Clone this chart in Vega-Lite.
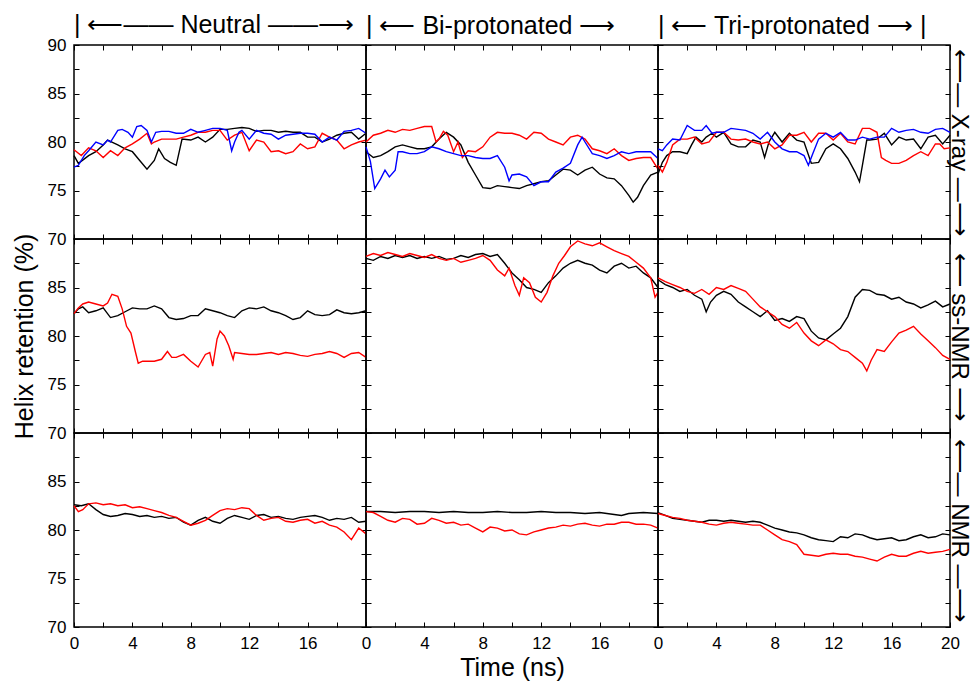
{
"$schema": "https://vega.github.io/schema/vega-lite/v6.json",
"background": "white",
"padding": {"left": 11, "top": 12, "right": 0, "bottom": 0},
"config": {
  "font": "Liberation Sans",
  "view": {"stroke": "#000000", "strokeWidth": 1.5},
  "axis": {"domain": false, "grid": false, "tickColor": "#000000", "tickSize": -5, "tickWidth": 1, "labelFont": "Liberation Sans", "labelFontSize": 17, "labelColor": "#000000", "labelPadding": 13, "labelOverlap": false, "labelFlush": false, "titleFont": "Liberation Sans", "titleFontSize": 25, "titleFontWeight": "normal", "titleColor": "#000000"},
  "title": {"font": "Liberation Sans", "fontSize": 25, "fontWeight": "normal", "color": "#000000"},
  "line": {"strokeWidth": 1.4}
},
"datasets": {
"NX": [
{"s":"k","t":0,"v":78.6},{"s":"k","t":0.3,"v":77.8},{"s":"k","t":1,"v":78.6},{"s":"k","t":1.5,"v":79.0},{"s":"k","t":2,"v":79.7},{"s":"k","t":2.3,"v":80.2},{"s":"k","t":3,"v":79.7},{"s":"k","t":3.5,"v":79.3},{"s":"k","t":4,"v":79.0},{"s":"k","t":4.5,"v":78.1},{"s":"k","t":5,"v":77.2},{"s":"k","t":5.5,"v":78.1},{"s":"k","t":5.8,"v":79.3},{"s":"k","t":6.2,"v":78.3},{"s":"k","t":6.6,"v":77.9},{"s":"k","t":7,"v":77.6},{"s":"k","t":7.4,"v":80.3},{"s":"k","t":8,"v":80.2},{"s":"k","t":8.5,"v":80.5},{"s":"k","t":9,"v":80.0},{"s":"k","t":9.5,"v":80.5},{"s":"k","t":10,"v":81.3},{"s":"k","t":10.5,"v":81.3},{"s":"k","t":11,"v":81.4},{"s":"k","t":11.5,"v":81.5},{"s":"k","t":12,"v":81.4},{"s":"k","t":12.5,"v":81.1},{"s":"k","t":13,"v":81.2},{"s":"k","t":13.5,"v":81.2},{"s":"k","t":14,"v":81.0},{"s":"k","t":14.5,"v":81.1},{"s":"k","t":15,"v":81.0},{"s":"k","t":15.5,"v":81.0},{"s":"k","t":16,"v":80.5},{"s":"k","t":16.5,"v":80.5},{"s":"k","t":17,"v":80.0},{"s":"k","t":17.5,"v":80.3},{"s":"k","t":18,"v":80.7},{"s":"k","t":18.5,"v":80.9},{"s":"k","t":19,"v":81.0},{"s":"k","t":19.5,"v":80.3},{"s":"k","t":20,"v":80.9},
{"s":"r","t":0,"v":79.2},{"s":"r","t":0.5,"v":78.6},{"s":"r","t":1,"v":79.4},{"s":"r","t":1.5,"v":79.1},{"s":"r","t":2,"v":78.4},{"s":"r","t":2.5,"v":79.1},{"s":"r","t":3,"v":78.6},{"s":"r","t":3.5,"v":79.4},{"s":"r","t":4,"v":79.8},{"s":"r","t":4.5,"v":80.3},{"s":"r","t":5,"v":80.9},{"s":"r","t":5.3,"v":79.8},{"s":"r","t":5.5,"v":80.0},{"s":"r","t":6,"v":80.3},{"s":"r","t":6.5,"v":80.3},{"s":"r","t":7,"v":80.3},{"s":"r","t":7.5,"v":80.5},{"s":"r","t":8,"v":80.7},{"s":"r","t":8.5,"v":81.0},{"s":"r","t":9,"v":81.0},{"s":"r","t":9.5,"v":81.2},{"s":"r","t":10,"v":81.2},{"s":"r","t":10.5,"v":80.2},{"s":"r","t":11,"v":80.7},{"s":"r","t":11.5,"v":81.0},{"s":"r","t":12,"v":79.1},{"s":"r","t":12.5,"v":80.2},{"s":"r","t":13,"v":80.0},{"s":"r","t":13.5,"v":79.0},{"s":"r","t":14,"v":79.1},{"s":"r","t":14.5,"v":78.8},{"s":"r","t":15,"v":79.0},{"s":"r","t":15.5,"v":79.8},{"s":"r","t":16,"v":79.3},{"s":"r","t":16.5,"v":79.5},{"s":"r","t":17,"v":80.9},{"s":"r","t":17.5,"v":80.5},{"s":"r","t":18,"v":80.2},{"s":"r","t":18.5,"v":79.3},{"s":"r","t":19,"v":79.7},{"s":"r","t":19.5,"v":80.0},{"s":"r","t":20,"v":80.2},
{"s":"b","t":0,"v":77.4},{"s":"b","t":0.3,"v":77.6},{"s":"b","t":0.7,"v":78.6},{"s":"b","t":1,"v":79.1},{"s":"b","t":1.5,"v":80.0},{"s":"b","t":2,"v":79.7},{"s":"b","t":2.3,"v":80.2},{"s":"b","t":2.5,"v":80.0},{"s":"b","t":3,"v":81.2},{"s":"b","t":3.3,"v":81.3},{"s":"b","t":3.7,"v":81.0},{"s":"b","t":4,"v":80.5},{"s":"b","t":4.3,"v":81.6},{"s":"b","t":4.6,"v":81.7},{"s":"b","t":5,"v":81.2},{"s":"b","t":5.3,"v":80.0},{"s":"b","t":5.6,"v":81.0},{"s":"b","t":6,"v":81.1},{"s":"b","t":6.5,"v":81.1},{"s":"b","t":7,"v":80.9},{"s":"b","t":7.5,"v":80.9},{"s":"b","t":8,"v":81.3},{"s":"b","t":8.5,"v":81.0},{"s":"b","t":9,"v":81.2},{"s":"b","t":9.5,"v":81.4},{"s":"b","t":10,"v":81.4},{"s":"b","t":10.5,"v":81.2},{"s":"b","t":10.8,"v":79.1},{"s":"b","t":11,"v":80.0},{"s":"b","t":11.3,"v":81.0},{"s":"b","t":11.5,"v":81.2},{"s":"b","t":12,"v":80.3},{"s":"b","t":12.5,"v":81.2},{"s":"b","t":13,"v":80.9},{"s":"b","t":13.5,"v":80.8},{"s":"b","t":14,"v":80.3},{"s":"b","t":14.5,"v":80.7},{"s":"b","t":15,"v":80.8},{"s":"b","t":15.5,"v":80.9},{"s":"b","t":16,"v":80.9},{"s":"b","t":16.5,"v":80.8},{"s":"b","t":17,"v":80.0},{"s":"b","t":17.5,"v":80.5},{"s":"b","t":18,"v":80.2},{"s":"b","t":18.5,"v":81.1},{"s":"b","t":19,"v":81.2},{"s":"b","t":19.5,"v":81.4},{"s":"b","t":20,"v":80.9}
],
"BX": [
{"s":"k","t":0,"v":79.0},{"s":"k","t":0.5,"v":78.4},{"s":"k","t":1,"v":78.6},{"s":"k","t":1.5,"v":79.0},{"s":"k","t":2,"v":79.5},{"s":"k","t":2.5,"v":79.7},{"s":"k","t":3,"v":79.5},{"s":"k","t":3.5,"v":79.3},{"s":"k","t":4,"v":79.3},{"s":"k","t":4.5,"v":79.5},{"s":"k","t":5,"v":80.3},{"s":"k","t":5.5,"v":81.0},{"s":"k","t":6,"v":80.5},{"s":"k","t":6.5,"v":79.7},{"s":"k","t":7,"v":77.9},{"s":"k","t":7.5,"v":76.6},{"s":"k","t":8,"v":75.3},{"s":"k","t":8.5,"v":75.2},{"s":"k","t":9,"v":75.5},{"s":"k","t":9.5,"v":75.4},{"s":"k","t":10,"v":75.3},{"s":"k","t":10.5,"v":75.2},{"s":"k","t":11,"v":75.5},{"s":"k","t":11.5,"v":75.7},{"s":"k","t":12,"v":75.9},{"s":"k","t":12.5,"v":76.0},{"s":"k","t":13,"v":76.6},{"s":"k","t":13.5,"v":77.2},{"s":"k","t":14,"v":77.1},{"s":"k","t":14.5,"v":76.6},{"s":"k","t":15,"v":77.1},{"s":"k","t":15.5,"v":77.4},{"s":"k","t":16,"v":76.7},{"s":"k","t":16.5,"v":76.3},{"s":"k","t":17,"v":76.2},{"s":"k","t":17.5,"v":75.5},{"s":"k","t":18,"v":74.5},{"s":"k","t":18.3,"v":73.8},{"s":"k","t":18.6,"v":74.3},{"s":"k","t":19,"v":75.5},{"s":"k","t":19.5,"v":76.6},{"s":"k","t":20,"v":76.9},
{"s":"r","t":0,"v":80.0},{"s":"r","t":0.5,"v":80.7},{"s":"r","t":1,"v":80.9},{"s":"r","t":1.5,"v":81.2},{"s":"r","t":2,"v":81.0},{"s":"r","t":2.5,"v":81.3},{"s":"r","t":3,"v":81.2},{"s":"r","t":3.5,"v":81.4},{"s":"r","t":4,"v":81.6},{"s":"r","t":4.5,"v":81.6},{"s":"r","t":4.8,"v":80.0},{"s":"r","t":5,"v":80.3},{"s":"r","t":5.3,"v":81.1},{"s":"r","t":5.6,"v":80.7},{"s":"r","t":6,"v":79.0},{"s":"r","t":6.3,"v":80.0},{"s":"r","t":6.6,"v":78.4},{"s":"r","t":7,"v":79.1},{"s":"r","t":7.5,"v":79.0},{"s":"r","t":8,"v":79.5},{"s":"r","t":8.5,"v":80.5},{"s":"r","t":9,"v":81.0},{"s":"r","t":9.5,"v":80.9},{"s":"r","t":10,"v":80.9},{"s":"r","t":10.5,"v":80.7},{"s":"r","t":11,"v":80.3},{"s":"r","t":11.5,"v":81.0},{"s":"r","t":12,"v":80.9},{"s":"r","t":12.5,"v":80.3},{"s":"r","t":13,"v":80.0},{"s":"r","t":13.5,"v":79.7},{"s":"r","t":14,"v":80.5},{"s":"r","t":14.5,"v":80.7},{"s":"r","t":15,"v":80.3},{"s":"r","t":15.5,"v":79.3},{"s":"r","t":16,"v":79.1},{"s":"r","t":16.5,"v":78.8},{"s":"r","t":17,"v":79.3},{"s":"r","t":17.5,"v":78.6},{"s":"r","t":18,"v":78.1},{"s":"r","t":18.5,"v":78.3},{"s":"r","t":19,"v":78.4},{"s":"r","t":19.5,"v":78.4},{"s":"r","t":20,"v":77.2},
{"s":"b","t":0,"v":79.5},{"s":"b","t":0.3,"v":78.0},{"s":"b","t":0.6,"v":75.2},{"s":"b","t":1,"v":76.2},{"s":"b","t":1.3,"v":77.1},{"s":"b","t":1.6,"v":76.4},{"s":"b","t":2,"v":77.1},{"s":"b","t":2.2,"v":79.0},{"s":"b","t":2.5,"v":79.0},{"s":"b","t":3,"v":78.8},{"s":"b","t":3.5,"v":78.8},{"s":"b","t":4,"v":79.0},{"s":"b","t":4.5,"v":79.5},{"s":"b","t":5,"v":79.3},{"s":"b","t":5.5,"v":79.0},{"s":"b","t":6,"v":78.8},{"s":"b","t":6.5,"v":78.6},{"s":"b","t":7,"v":78.6},{"s":"b","t":7.5,"v":78.4},{"s":"b","t":8,"v":78.3},{"s":"b","t":8.5,"v":78.3},{"s":"b","t":9,"v":78.6},{"s":"b","t":9.5,"v":77.4},{"s":"b","t":9.8,"v":76.0},{"s":"b","t":10,"v":76.6},{"s":"b","t":10.5,"v":76.7},{"s":"b","t":11,"v":76.4},{"s":"b","t":11.5,"v":75.5},{"s":"b","t":12,"v":75.9},{"s":"b","t":12.5,"v":75.9},{"s":"b","t":13,"v":76.9},{"s":"b","t":13.5,"v":77.3},{"s":"b","t":14,"v":77.8},{"s":"b","t":14.5,"v":79.7},{"s":"b","t":14.8,"v":80.5},{"s":"b","t":15,"v":80.0},{"s":"b","t":15.5,"v":78.8},{"s":"b","t":16,"v":78.6},{"s":"b","t":16.5,"v":78.3},{"s":"b","t":17,"v":78.6},{"s":"b","t":17.5,"v":79.0},{"s":"b","t":18,"v":78.8},{"s":"b","t":18.5,"v":79.0},{"s":"b","t":19,"v":79.0},{"s":"b","t":19.5,"v":79.0},{"s":"b","t":20,"v":78.3}
],
"TX": [
{"s":"k","t":0,"v":76.7},{"s":"k","t":0.3,"v":77.9},{"s":"k","t":0.6,"v":78.6},{"s":"k","t":1,"v":79.0},{"s":"k","t":1.5,"v":79.0},{"s":"k","t":2,"v":78.8},{"s":"k","t":2.3,"v":79.7},{"s":"k","t":2.6,"v":80.5},{"s":"k","t":3,"v":80.0},{"s":"k","t":3.3,"v":80.5},{"s":"k","t":3.7,"v":80.9},{"s":"k","t":4,"v":80.5},{"s":"k","t":4.5,"v":81.0},{"s":"k","t":5,"v":79.8},{"s":"k","t":5.5,"v":79.5},{"s":"k","t":6,"v":79.5},{"s":"k","t":6.5,"v":80.2},{"s":"k","t":7,"v":80.0},{"s":"k","t":7.3,"v":78.4},{"s":"k","t":7.6,"v":80.0},{"s":"k","t":8,"v":81.0},{"s":"k","t":8.5,"v":80.0},{"s":"k","t":9,"v":80.9},{"s":"k","t":9.5,"v":80.2},{"s":"k","t":10,"v":80.0},{"s":"k","t":10.5,"v":77.8},{"s":"k","t":11,"v":77.9},{"s":"k","t":11.5,"v":79.3},{"s":"k","t":12,"v":79.8},{"s":"k","t":12.5,"v":79.3},{"s":"k","t":13,"v":78.3},{"s":"k","t":13.5,"v":76.9},{"s":"k","t":13.8,"v":75.9},{"s":"k","t":14,"v":77.6},{"s":"k","t":14.3,"v":80.2},{"s":"k","t":14.5,"v":80.2},{"s":"k","t":15,"v":80.3},{"s":"k","t":15.5,"v":80.9},{"s":"k","t":16,"v":79.7},{"s":"k","t":16.5,"v":80.5},{"s":"k","t":17,"v":80.2},{"s":"k","t":17.5,"v":80.3},{"s":"k","t":18,"v":79.3},{"s":"k","t":18.5,"v":80.5},{"s":"k","t":19,"v":80.7},{"s":"k","t":19.5,"v":79.8},{"s":"k","t":20,"v":80.7},
{"s":"r","t":0,"v":77.6},{"s":"r","t":0.3,"v":76.9},{"s":"r","t":0.6,"v":77.9},{"s":"r","t":1,"v":79.7},{"s":"r","t":1.5,"v":80.3},{"s":"r","t":2,"v":80.3},{"s":"r","t":2.5,"v":80.5},{"s":"r","t":3,"v":79.8},{"s":"r","t":3.5,"v":80.0},{"s":"r","t":4,"v":81.0},{"s":"r","t":4.5,"v":81.0},{"s":"r","t":5,"v":80.3},{"s":"r","t":5.5,"v":80.2},{"s":"r","t":6,"v":80.3},{"s":"r","t":6.5,"v":80.0},{"s":"r","t":7,"v":79.8},{"s":"r","t":7.5,"v":80.0},{"s":"r","t":8,"v":79.3},{"s":"r","t":8.5,"v":79.7},{"s":"r","t":9,"v":80.7},{"s":"r","t":9.5,"v":80.7},{"s":"r","t":10,"v":81.0},{"s":"r","t":10.5,"v":80.0},{"s":"r","t":11,"v":80.9},{"s":"r","t":11.5,"v":80.9},{"s":"r","t":12,"v":80.2},{"s":"r","t":12.5,"v":80.9},{"s":"r","t":13,"v":80.0},{"s":"r","t":13.5,"v":79.8},{"s":"r","t":14,"v":81.4},{"s":"r","t":14.5,"v":81.4},{"s":"r","t":15,"v":81.0},{"s":"r","t":15.3,"v":78.4},{"s":"r","t":15.6,"v":78.1},{"s":"r","t":16,"v":77.8},{"s":"r","t":16.5,"v":77.8},{"s":"r","t":17,"v":78.1},{"s":"r","t":17.5,"v":78.6},{"s":"r","t":18,"v":79.0},{"s":"r","t":18.5,"v":78.6},{"s":"r","t":19,"v":79.8},{"s":"r","t":19.3,"v":79.8},{"s":"r","t":19.6,"v":79.3},{"s":"r","t":20,"v":79.4},
{"s":"b","t":0,"v":79.3},{"s":"b","t":0.3,"v":79.1},{"s":"b","t":0.6,"v":79.7},{"s":"b","t":1,"v":80.3},{"s":"b","t":1.5,"v":80.2},{"s":"b","t":2,"v":81.7},{"s":"b","t":2.5,"v":81.2},{"s":"b","t":3,"v":81.2},{"s":"b","t":3.3,"v":81.7},{"s":"b","t":3.7,"v":80.9},{"s":"b","t":4,"v":81.0},{"s":"b","t":4.5,"v":81.0},{"s":"b","t":5,"v":81.4},{"s":"b","t":5.5,"v":81.3},{"s":"b","t":6,"v":81.2},{"s":"b","t":6.5,"v":80.9},{"s":"b","t":7,"v":80.3},{"s":"b","t":7.5,"v":81.0},{"s":"b","t":8,"v":80.0},{"s":"b","t":8.5,"v":79.3},{"s":"b","t":9,"v":79.0},{"s":"b","t":9.5,"v":79.0},{"s":"b","t":10,"v":78.6},{"s":"b","t":10.3,"v":77.6},{"s":"b","t":10.6,"v":78.8},{"s":"b","t":11,"v":80.3},{"s":"b","t":11.5,"v":80.9},{"s":"b","t":12,"v":80.5},{"s":"b","t":12.5,"v":81.0},{"s":"b","t":13,"v":80.2},{"s":"b","t":13.5,"v":80.2},{"s":"b","t":14,"v":80.5},{"s":"b","t":14.5,"v":80.3},{"s":"b","t":15,"v":80.5},{"s":"b","t":15.5,"v":80.5},{"s":"b","t":16,"v":81.4},{"s":"b","t":16.5,"v":81.0},{"s":"b","t":17,"v":81.2},{"s":"b","t":17.5,"v":81.3},{"s":"b","t":18,"v":81.0},{"s":"b","t":18.5,"v":80.9},{"s":"b","t":19,"v":81.3},{"s":"b","t":19.5,"v":81.4},{"s":"b","t":20,"v":81.0}
],
"NS": [
{"s":"k","t":0,"v":82.3},{"s":"k","t":0.3,"v":82.8},{"s":"k","t":0.6,"v":83.0},{"s":"k","t":1,"v":82.4},{"s":"k","t":1.5,"v":82.6},{"s":"k","t":2,"v":82.9},{"s":"k","t":2.5,"v":81.9},{"s":"k","t":3,"v":82.1},{"s":"k","t":3.5,"v":82.5},{"s":"k","t":4,"v":82.9},{"s":"k","t":4.5,"v":82.8},{"s":"k","t":5,"v":82.8},{"s":"k","t":5.5,"v":83.1},{"s":"k","t":6,"v":82.8},{"s":"k","t":6.5,"v":81.9},{"s":"k","t":7,"v":81.7},{"s":"k","t":7.5,"v":81.8},{"s":"k","t":8,"v":82.1},{"s":"k","t":8.5,"v":82.1},{"s":"k","t":9,"v":82.8},{"s":"k","t":9.5,"v":82.6},{"s":"k","t":10,"v":82.4},{"s":"k","t":10.5,"v":82.1},{"s":"k","t":11,"v":81.9},{"s":"k","t":11.5,"v":82.6},{"s":"k","t":12,"v":82.9},{"s":"k","t":12.5,"v":82.8},{"s":"k","t":13,"v":83.0},{"s":"k","t":13.5,"v":82.6},{"s":"k","t":14,"v":82.4},{"s":"k","t":14.5,"v":82.1},{"s":"k","t":15,"v":81.7},{"s":"k","t":15.5,"v":81.9},{"s":"k","t":16,"v":82.6},{"s":"k","t":16.5,"v":82.2},{"s":"k","t":17,"v":82.1},{"s":"k","t":17.5,"v":82.2},{"s":"k","t":18,"v":82.7},{"s":"k","t":18.5,"v":82.4},{"s":"k","t":19,"v":82.3},{"s":"k","t":19.5,"v":82.4},{"s":"k","t":20,"v":82.6},
{"s":"r","t":0,"v":82.3},{"s":"r","t":0.3,"v":82.9},{"s":"r","t":0.6,"v":83.3},{"s":"r","t":1,"v":83.5},{"s":"r","t":1.5,"v":83.3},{"s":"r","t":2,"v":83.1},{"s":"r","t":2.3,"v":83.4},{"s":"r","t":2.6,"v":84.3},{"s":"r","t":3,"v":84.1},{"s":"r","t":3.3,"v":82.8},{"s":"r","t":3.6,"v":81.0},{"s":"r","t":3.9,"v":80.3},{"s":"r","t":4.2,"v":78.4},{"s":"r","t":4.4,"v":77.2},{"s":"r","t":4.7,"v":77.4},{"s":"r","t":5,"v":77.4},{"s":"r","t":5.5,"v":77.4},{"s":"r","t":6,"v":77.6},{"s":"r","t":6.4,"v":78.4},{"s":"r","t":6.7,"v":77.8},{"s":"r","t":7,"v":77.8},{"s":"r","t":7.5,"v":78.1},{"s":"r","t":8,"v":77.4},{"s":"r","t":8.5,"v":76.8},{"s":"r","t":9,"v":78.1},{"s":"r","t":9.3,"v":78.3},{"s":"r","t":9.5,"v":76.9},{"s":"r","t":9.8,"v":79.7},{"s":"r","t":10,"v":80.5},{"s":"r","t":10.3,"v":80.0},{"s":"r","t":10.6,"v":79.0},{"s":"r","t":10.9,"v":77.6},{"s":"r","t":11,"v":78.3},{"s":"r","t":11.5,"v":78.2},{"s":"r","t":12,"v":78.1},{"s":"r","t":12.5,"v":78.1},{"s":"r","t":13,"v":78.2},{"s":"r","t":13.5,"v":78.3},{"s":"r","t":14,"v":78.1},{"s":"r","t":14.5,"v":78.3},{"s":"r","t":15,"v":78.2},{"s":"r","t":15.5,"v":78.0},{"s":"r","t":16,"v":77.9},{"s":"r","t":16.5,"v":78.1},{"s":"r","t":17,"v":78.2},{"s":"r","t":17.5,"v":78.4},{"s":"r","t":18,"v":78.2},{"s":"r","t":18.5,"v":77.8},{"s":"r","t":19,"v":78.2},{"s":"r","t":19.5,"v":78.3},{"s":"r","t":20,"v":77.8}
],
"BS": [
{"s":"k","t":0,"v":88.0},{"s":"k","t":0.5,"v":87.8},{"s":"k","t":1,"v":88.2},{"s":"k","t":1.5,"v":88.0},{"s":"k","t":2,"v":88.3},{"s":"k","t":2.5,"v":88.1},{"s":"k","t":3,"v":88.3},{"s":"k","t":3.5,"v":88.0},{"s":"k","t":4,"v":88.2},{"s":"k","t":4.5,"v":88.0},{"s":"k","t":5,"v":88.2},{"s":"k","t":5.5,"v":87.9},{"s":"k","t":6,"v":88.0},{"s":"k","t":6.5,"v":88.3},{"s":"k","t":7,"v":88.1},{"s":"k","t":7.5,"v":88.4},{"s":"k","t":8,"v":88.5},{"s":"k","t":8.5,"v":88.2},{"s":"k","t":9,"v":88.4},{"s":"k","t":9.5,"v":87.5},{"s":"k","t":10,"v":86.5},{"s":"k","t":10.5,"v":85.8},{"s":"k","t":11,"v":85.0},{"s":"k","t":11.5,"v":84.8},{"s":"k","t":12,"v":84.5},{"s":"k","t":12.5,"v":85.5},{"s":"k","t":13,"v":86.2},{"s":"k","t":13.5,"v":87.0},{"s":"k","t":14,"v":87.5},{"s":"k","t":14.5,"v":87.8},{"s":"k","t":15,"v":87.5},{"s":"k","t":15.5,"v":87.3},{"s":"k","t":16,"v":86.8},{"s":"k","t":16.5,"v":86.5},{"s":"k","t":17,"v":87.2},{"s":"k","t":17.5,"v":87.5},{"s":"k","t":18,"v":87.0},{"s":"k","t":18.5,"v":87.2},{"s":"k","t":19,"v":86.5},{"s":"k","t":19.5,"v":86.0},{"s":"k","t":20,"v":85.0},
{"s":"r","t":0,"v":88.2},{"s":"r","t":0.5,"v":88.5},{"s":"r","t":1,"v":88.3},{"s":"r","t":1.5,"v":88.6},{"s":"r","t":2,"v":88.4},{"s":"r","t":2.5,"v":88.2},{"s":"r","t":3,"v":88.5},{"s":"r","t":3.5,"v":88.3},{"s":"r","t":4,"v":88.1},{"s":"r","t":4.5,"v":88.4},{"s":"r","t":5,"v":88.0},{"s":"r","t":5.5,"v":87.8},{"s":"r","t":6,"v":88.0},{"s":"r","t":6.5,"v":87.6},{"s":"r","t":7,"v":87.8},{"s":"r","t":7.5,"v":88.0},{"s":"r","t":8,"v":88.3},{"s":"r","t":8.5,"v":87.8},{"s":"r","t":9,"v":86.8},{"s":"r","t":9.5,"v":86.2},{"s":"r","t":9.8,"v":87.0},{"s":"r","t":10.2,"v":85.2},{"s":"r","t":10.5,"v":84.2},{"s":"r","t":10.8,"v":86.0},{"s":"r","t":11.2,"v":85.5},{"s":"r","t":11.6,"v":84.0},{"s":"r","t":12,"v":83.5},{"s":"r","t":12.4,"v":84.5},{"s":"r","t":12.8,"v":86.2},{"s":"r","t":13.2,"v":87.5},{"s":"r","t":13.6,"v":88.3},{"s":"r","t":14,"v":89.2},{"s":"r","t":14.5,"v":89.8},{"s":"r","t":15,"v":89.5},{"s":"r","t":15.5,"v":89.3},{"s":"r","t":16,"v":89.6},{"s":"r","t":16.5,"v":89.2},{"s":"r","t":17,"v":88.8},{"s":"r","t":17.5,"v":88.5},{"s":"r","t":18,"v":88.2},{"s":"r","t":18.5,"v":87.6},{"s":"r","t":19,"v":87.0},{"s":"r","t":19.5,"v":86.0},{"s":"r","t":19.8,"v":84.0},{"s":"r","t":20,"v":84.5}
],
"TS": [
{"s":"k","t":0,"v":85.8},{"s":"k","t":0.5,"v":85.3},{"s":"k","t":1,"v":85.0},{"s":"k","t":1.5,"v":84.6},{"s":"k","t":2,"v":84.8},{"s":"k","t":2.5,"v":84.2},{"s":"k","t":3,"v":83.8},{"s":"k","t":3.3,"v":82.5},{"s":"k","t":3.6,"v":83.5},{"s":"k","t":4,"v":84.2},{"s":"k","t":4.5,"v":84.6},{"s":"k","t":5,"v":84.3},{"s":"k","t":5.5,"v":83.5},{"s":"k","t":6,"v":83.0},{"s":"k","t":6.5,"v":82.5},{"s":"k","t":7,"v":82.0},{"s":"k","t":7.5,"v":82.6},{"s":"k","t":8,"v":81.6},{"s":"k","t":8.5,"v":81.8},{"s":"k","t":9,"v":81.5},{"s":"k","t":9.5,"v":82.0},{"s":"k","t":10,"v":81.8},{"s":"k","t":10.5,"v":80.5},{"s":"k","t":11,"v":79.8},{"s":"k","t":11.5,"v":79.6},{"s":"k","t":12,"v":80.2},{"s":"k","t":12.5,"v":80.8},{"s":"k","t":13,"v":82.0},{"s":"k","t":13.5,"v":84.0},{"s":"k","t":14,"v":84.8},{"s":"k","t":14.5,"v":84.7},{"s":"k","t":15,"v":84.3},{"s":"k","t":15.5,"v":84.2},{"s":"k","t":16,"v":83.8},{"s":"k","t":16.5,"v":84.0},{"s":"k","t":17,"v":83.5},{"s":"k","t":17.5,"v":83.3},{"s":"k","t":18,"v":82.9},{"s":"k","t":18.5,"v":83.2},{"s":"k","t":19,"v":83.6},{"s":"k","t":19.5,"v":83.0},{"s":"k","t":20,"v":83.3},
{"s":"r","t":0,"v":86.0},{"s":"r","t":0.5,"v":85.6},{"s":"r","t":1,"v":85.3},{"s":"r","t":1.5,"v":85.0},{"s":"r","t":2,"v":84.6},{"s":"r","t":2.5,"v":84.4},{"s":"r","t":3,"v":84.8},{"s":"r","t":3.5,"v":84.3},{"s":"r","t":4,"v":85.0},{"s":"r","t":4.5,"v":84.8},{"s":"r","t":5,"v":85.2},{"s":"r","t":5.5,"v":84.9},{"s":"r","t":6,"v":84.6},{"s":"r","t":6.5,"v":83.8},{"s":"r","t":7,"v":83.0},{"s":"r","t":7.5,"v":82.5},{"s":"r","t":8,"v":82.0},{"s":"r","t":8.5,"v":81.2},{"s":"r","t":9,"v":80.8},{"s":"r","t":9.5,"v":81.4},{"s":"r","t":10,"v":80.3},{"s":"r","t":10.5,"v":79.5},{"s":"r","t":11,"v":79.0},{"s":"r","t":11.5,"v":79.6},{"s":"r","t":12,"v":79.2},{"s":"r","t":12.5,"v":78.6},{"s":"r","t":13,"v":78.4},{"s":"r","t":13.5,"v":77.8},{"s":"r","t":14,"v":77.2},{"s":"r","t":14.3,"v":76.4},{"s":"r","t":14.6,"v":77.5},{"s":"r","t":15,"v":78.6},{"s":"r","t":15.5,"v":78.4},{"s":"r","t":16,"v":79.4},{"s":"r","t":16.5,"v":80.3},{"s":"r","t":17,"v":80.6},{"s":"r","t":17.5,"v":81.0},{"s":"r","t":18,"v":80.2},{"s":"r","t":18.5,"v":79.5},{"s":"r","t":19,"v":78.8},{"s":"r","t":19.5,"v":78.0},{"s":"r","t":20,"v":77.6}
],
"NN": [
{"s":"k","t":0,"v":82.6},{"s":"k","t":0.5,"v":82.5},{"s":"k","t":1,"v":82.7},{"s":"k","t":1.5,"v":82.1},{"s":"k","t":2,"v":81.6},{"s":"k","t":2.5,"v":81.4},{"s":"k","t":3,"v":81.5},{"s":"k","t":3.5,"v":81.7},{"s":"k","t":4,"v":81.6},{"s":"k","t":4.5,"v":81.4},{"s":"k","t":5,"v":81.5},{"s":"k","t":5.5,"v":81.3},{"s":"k","t":6,"v":81.4},{"s":"k","t":6.5,"v":81.2},{"s":"k","t":7,"v":81.3},{"s":"k","t":7.5,"v":80.8},{"s":"k","t":8,"v":80.5},{"s":"k","t":8.5,"v":81.0},{"s":"k","t":9,"v":81.3},{"s":"k","t":9.5,"v":80.9},{"s":"k","t":10,"v":80.7},{"s":"k","t":10.5,"v":81.2},{"s":"k","t":11,"v":81.5},{"s":"k","t":11.5,"v":81.3},{"s":"k","t":12,"v":81.1},{"s":"k","t":12.5,"v":81.5},{"s":"k","t":13,"v":81.6},{"s":"k","t":13.5,"v":81.3},{"s":"k","t":14,"v":81.4},{"s":"k","t":14.5,"v":81.2},{"s":"k","t":15,"v":81.1},{"s":"k","t":15.5,"v":81.3},{"s":"k","t":16,"v":81.4},{"s":"k","t":16.5,"v":81.5},{"s":"k","t":17,"v":81.3},{"s":"k","t":17.5,"v":81.0},{"s":"k","t":18,"v":81.2},{"s":"k","t":18.5,"v":81.1},{"s":"k","t":19,"v":81.3},{"s":"k","t":19.5,"v":80.8},{"s":"k","t":20,"v":80.9},
{"s":"r","t":0,"v":82.5},{"s":"r","t":0.3,"v":81.9},{"s":"r","t":0.6,"v":82.1},{"s":"r","t":1,"v":82.7},{"s":"r","t":1.5,"v":82.8},{"s":"r","t":2,"v":82.6},{"s":"r","t":2.5,"v":82.7},{"s":"r","t":3,"v":82.5},{"s":"r","t":3.5,"v":82.6},{"s":"r","t":4,"v":82.3},{"s":"r","t":4.5,"v":82.4},{"s":"r","t":5,"v":82.2},{"s":"r","t":5.5,"v":82.0},{"s":"r","t":6,"v":81.8},{"s":"r","t":6.5,"v":81.5},{"s":"r","t":7,"v":81.3},{"s":"r","t":7.5,"v":80.9},{"s":"r","t":8,"v":80.5},{"s":"r","t":8.5,"v":80.7},{"s":"r","t":9,"v":81.0},{"s":"r","t":9.5,"v":81.5},{"s":"r","t":10,"v":82.0},{"s":"r","t":10.5,"v":82.2},{"s":"r","t":11,"v":82.1},{"s":"r","t":11.5,"v":82.3},{"s":"r","t":12,"v":82.2},{"s":"r","t":12.5,"v":81.5},{"s":"r","t":13,"v":81.0},{"s":"r","t":13.5,"v":81.2},{"s":"r","t":14,"v":81.3},{"s":"r","t":14.5,"v":80.9},{"s":"r","t":15,"v":80.8},{"s":"r","t":15.5,"v":81.0},{"s":"r","t":16,"v":81.1},{"s":"r","t":16.5,"v":80.7},{"s":"r","t":17,"v":80.9},{"s":"r","t":17.5,"v":80.5},{"s":"r","t":18,"v":80.3},{"s":"r","t":18.5,"v":79.8},{"s":"r","t":19,"v":79.0},{"s":"r","t":19.5,"v":80.2},{"s":"r","t":20,"v":79.6}
],
"BN": [
{"s":"k","t":0,"v":81.9},{"s":"k","t":1,"v":81.9},{"s":"k","t":2,"v":81.8},{"s":"k","t":3,"v":81.9},{"s":"k","t":4,"v":81.9},{"s":"k","t":5,"v":81.8},{"s":"k","t":6,"v":81.9},{"s":"k","t":7,"v":81.8},{"s":"k","t":8,"v":81.8},{"s":"k","t":9,"v":81.9},{"s":"k","t":10,"v":81.8},{"s":"k","t":11,"v":81.8},{"s":"k","t":12,"v":81.9},{"s":"k","t":13,"v":81.8},{"s":"k","t":14,"v":81.8},{"s":"k","t":15,"v":81.7},{"s":"k","t":16,"v":81.8},{"s":"k","t":17,"v":81.6},{"s":"k","t":17.5,"v":81.5},{"s":"k","t":18,"v":81.7},{"s":"k","t":19,"v":81.8},{"s":"k","t":20,"v":81.7},
{"s":"r","t":0,"v":81.9},{"s":"r","t":0.5,"v":81.8},{"s":"r","t":1,"v":81.4},{"s":"r","t":1.5,"v":81.0},{"s":"r","t":2,"v":80.8},{"s":"r","t":2.5,"v":81.2},{"s":"r","t":3,"v":81.1},{"s":"r","t":3.5,"v":80.6},{"s":"r","t":4,"v":80.7},{"s":"r","t":4.5,"v":81.2},{"s":"r","t":5,"v":81.0},{"s":"r","t":5.5,"v":80.7},{"s":"r","t":6,"v":80.8},{"s":"r","t":6.5,"v":80.5},{"s":"r","t":7,"v":80.6},{"s":"r","t":7.5,"v":80.2},{"s":"r","t":8,"v":79.8},{"s":"r","t":8.5,"v":80.3},{"s":"r","t":9,"v":80.2},{"s":"r","t":9.5,"v":79.9},{"s":"r","t":10,"v":80.0},{"s":"r","t":10.5,"v":79.6},{"s":"r","t":11,"v":79.5},{"s":"r","t":11.5,"v":79.8},{"s":"r","t":12,"v":80.0},{"s":"r","t":12.5,"v":80.2},{"s":"r","t":13,"v":80.3},{"s":"r","t":13.5,"v":80.5},{"s":"r","t":14,"v":80.4},{"s":"r","t":14.5,"v":80.6},{"s":"r","t":15,"v":80.7},{"s":"r","t":15.5,"v":80.5},{"s":"r","t":16,"v":80.4},{"s":"r","t":16.5,"v":80.6},{"s":"r","t":17,"v":80.6},{"s":"r","t":17.5,"v":80.8},{"s":"r","t":18,"v":80.8},{"s":"r","t":18.5,"v":80.6},{"s":"r","t":19,"v":80.6},{"s":"r","t":19.5,"v":80.5},{"s":"r","t":20,"v":80.2}
],
"TN": [
{"s":"k","t":0,"v":81.8},{"s":"k","t":0.5,"v":81.5},{"s":"k","t":1,"v":81.2},{"s":"k","t":1.5,"v":81.1},{"s":"k","t":2,"v":81.0},{"s":"k","t":2.5,"v":80.9},{"s":"k","t":3,"v":80.8},{"s":"k","t":3.5,"v":81.0},{"s":"k","t":4,"v":81.0},{"s":"k","t":4.5,"v":80.9},{"s":"k","t":5,"v":81.0},{"s":"k","t":5.5,"v":80.9},{"s":"k","t":6,"v":80.8},{"s":"k","t":6.5,"v":80.9},{"s":"k","t":7,"v":80.8},{"s":"k","t":7.5,"v":80.5},{"s":"k","t":8,"v":80.2},{"s":"k","t":8.5,"v":80.0},{"s":"k","t":9,"v":79.8},{"s":"k","t":9.5,"v":79.7},{"s":"k","t":10,"v":79.5},{"s":"k","t":10.5,"v":79.2},{"s":"k","t":11,"v":79.0},{"s":"k","t":11.5,"v":78.9},{"s":"k","t":12,"v":78.8},{"s":"k","t":12.5,"v":79.3},{"s":"k","t":13,"v":79.2},{"s":"k","t":13.5,"v":79.6},{"s":"k","t":14,"v":79.5},{"s":"k","t":14.5,"v":79.2},{"s":"k","t":15,"v":79.0},{"s":"k","t":15.5,"v":79.1},{"s":"k","t":16,"v":79.2},{"s":"k","t":16.5,"v":78.9},{"s":"k","t":17,"v":79.0},{"s":"k","t":17.5,"v":79.3},{"s":"k","t":18,"v":79.5},{"s":"k","t":18.5,"v":79.2},{"s":"k","t":19,"v":79.3},{"s":"k","t":19.5,"v":79.6},{"s":"k","t":20,"v":79.5},
{"s":"r","t":0,"v":81.7},{"s":"r","t":0.5,"v":81.5},{"s":"r","t":1,"v":81.3},{"s":"r","t":1.5,"v":81.2},{"s":"r","t":2,"v":81.0},{"s":"r","t":2.5,"v":80.9},{"s":"r","t":3,"v":80.8},{"s":"r","t":3.5,"v":80.6},{"s":"r","t":4,"v":80.5},{"s":"r","t":4.5,"v":80.7},{"s":"r","t":5,"v":80.8},{"s":"r","t":5.5,"v":80.7},{"s":"r","t":6,"v":80.6},{"s":"r","t":6.5,"v":80.5},{"s":"r","t":7,"v":80.5},{"s":"r","t":7.5,"v":80.0},{"s":"r","t":8,"v":79.5},{"s":"r","t":8.5,"v":79.0},{"s":"r","t":9,"v":78.8},{"s":"r","t":9.5,"v":78.5},{"s":"r","t":10,"v":77.5},{"s":"r","t":10.5,"v":77.4},{"s":"r","t":11,"v":77.3},{"s":"r","t":11.5,"v":77.5},{"s":"r","t":12,"v":77.6},{"s":"r","t":12.5,"v":77.5},{"s":"r","t":13,"v":77.5},{"s":"r","t":13.5,"v":77.3},{"s":"r","t":14,"v":77.2},{"s":"r","t":14.5,"v":77.0},{"s":"r","t":15,"v":76.8},{"s":"r","t":15.5,"v":77.2},{"s":"r","t":16,"v":77.5},{"s":"r","t":16.5,"v":77.3},{"s":"r","t":17,"v":77.3},{"s":"r","t":17.5,"v":77.6},{"s":"r","t":18,"v":77.8},{"s":"r","t":18.5,"v":77.6},{"s":"r","t":19,"v":77.7},{"s":"r","t":19.5,"v":77.8},{"s":"r","t":20,"v":78.0}
]
},
"columns": 3,
"spacing": 0,
"bounds": "flush",
"concat": [
{"data":{"name":"NX"},"width":292,"height":194,
 "title":{"text":"| ⟵—— Neutral ——⟶","anchor":"start","frame":"group","offset":-2},
 "layer":[
  {"mark":{"type":"line"},"encoding":{
   "x":{"field":"t","type":"quantitative","scale":{"domain":[0,20],"nice":false},"axis":{"orient":"bottom","values":[0,2,4,6,8,10,12,14,16,18,20],"labels":false,"title":null}},
   "y":{"field":"v","type":"quantitative","scale":{"domain":[70,90],"nice":false,"zero":false},"axis":{"orient":"left","values":[70,72.5,75,77.5,80,82.5,85,87.5,90],"format":"d","labelExpr":"datum.value % 5 === 0 ? datum.label : ''","title":null}},
   "color":{"field":"s","type":"nominal","scale":{"domain":["k","r","b"],"range":["#000000","#ff0000","#0000ff"]},"legend":null}}},
  {"mark":{"type":"line","opacity":0},"encoding":{
   "x":{"field":"t","type":"quantitative","scale":{"domain":[0,20],"nice":false},"axis":{"orient":"top","values":[0,2,4,6,8,10,12,14,16,18,20],"labels":false,"title":null}},
   "y":{"field":"v","type":"quantitative","scale":{"domain":[70,90],"nice":false,"zero":false},"axis":{"orient":"right","values":[70,72.5,75,77.5,80,82.5,85,87.5,90],"labels":false,"title":null}},
   "detail":{"field":"s","type":"nominal"}}}
 ],
 "resolve":{"axis":{"x":"independent","y":"independent"}}},
{"data":{"name":"BX"},"width":292,"height":194,
 "title":{"text":"|  ⟵  Bi-protonated  ⟶","anchor":"start","frame":"group","offset":6},
 "layer":[
  {"mark":{"type":"line"},"encoding":{
   "x":{"field":"t","type":"quantitative","scale":{"domain":[0,20],"nice":false},"axis":{"orient":"bottom","values":[0,2,4,6,8,10,12,14,16,18,20],"labels":false,"title":null}},
   "y":{"field":"v","type":"quantitative","scale":{"domain":[70,90],"nice":false,"zero":false},"axis":{"orient":"left","values":[70,72.5,75,77.5,80,82.5,85,87.5,90],"labels":false,"title":null}},
   "color":{"field":"s","type":"nominal","scale":{"domain":["k","r","b"],"range":["#000000","#ff0000","#0000ff"]},"legend":null}}},
  {"mark":{"type":"line","opacity":0},"encoding":{
   "x":{"field":"t","type":"quantitative","scale":{"domain":[0,20],"nice":false},"axis":{"orient":"top","values":[0,2,4,6,8,10,12,14,16,18,20],"labels":false,"title":null}},
   "y":{"field":"v","type":"quantitative","scale":{"domain":[70,90],"nice":false,"zero":false},"axis":{"orient":"right","values":[70,72.5,75,77.5,80,82.5,85,87.5,90],"labels":false,"title":null}},
   "detail":{"field":"s","type":"nominal"}}}
 ],
 "resolve":{"axis":{"x":"independent","y":"independent"}}},
{"data":{"name":"TX"},"width":292,"height":194,
 "title":{"text":"| ⟵ Tri-protonated ⟶ |","anchor":"start","frame":"group","offset":6},
 "layer":[
  {"mark":{"type":"line"},"encoding":{
   "x":{"field":"t","type":"quantitative","scale":{"domain":[0,20],"nice":false},"axis":{"orient":"bottom","values":[0,2,4,6,8,10,12,14,16,18,20],"labels":false,"title":null}},
   "y":{"field":"v","type":"quantitative","scale":{"domain":[70,90],"nice":false,"zero":false},"axis":{"orient":"left","values":[70,72.5,75,77.5,80,82.5,85,87.5,90],"labels":false,"title":null}},
   "color":{"field":"s","type":"nominal","scale":{"domain":["k","r","b"],"range":["#000000","#ff0000","#0000ff"]},"legend":null}}},
  {"mark":{"type":"line","opacity":0},"encoding":{
   "x":{"field":"t","type":"quantitative","scale":{"domain":[0,20],"nice":false},"axis":{"orient":"top","values":[0,2,4,6,8,10,12,14,16,18,20],"labels":false,"title":null}},
   "y":{"field":"v","type":"quantitative","scale":{"domain":[70,90],"nice":false,"zero":false},"axis":{"orient":"right","values":[70,72.5,75,77.5,80,82.5,85,87.5,90],"labels":false,"title":"⟵— X-ray —⟶","titleAngle":90,"titlePadding":-4,"titleFontSize":24}},
   "detail":{"field":"s","type":"nominal"}}}
 ],
 "resolve":{"axis":{"x":"independent","y":"independent"}}},
{"data":{"name":"NS"},"width":292,"height":194,
 "layer":[
  {"mark":{"type":"line"},"encoding":{
   "x":{"field":"t","type":"quantitative","scale":{"domain":[0,20],"nice":false},"axis":{"orient":"bottom","values":[0,2,4,6,8,10,12,14,16,18,20],"labels":false,"title":null}},
   "y":{"field":"v","type":"quantitative","scale":{"domain":[70,90],"nice":false,"zero":false},"axis":{"orient":"left","values":[70,72.5,75,77.5,80,82.5,85,87.5,90],"format":"d","labelExpr":"datum.value % 5 === 0 && datum.value < 90 ? datum.label : ''","title":"Helix retention (%)","titlePadding":10}},
   "color":{"field":"s","type":"nominal","scale":{"domain":["k","r","b"],"range":["#000000","#ff0000","#0000ff"]},"legend":null}}},
  {"mark":{"type":"line","opacity":0},"encoding":{
   "x":{"field":"t","type":"quantitative","scale":{"domain":[0,20],"nice":false},"axis":{"orient":"top","values":[0,2,4,6,8,10,12,14,16,18,20],"labels":false,"title":null}},
   "y":{"field":"v","type":"quantitative","scale":{"domain":[70,90],"nice":false,"zero":false},"axis":{"orient":"right","values":[70,72.5,75,77.5,80,82.5,85,87.5,90],"labels":false,"title":null}},
   "detail":{"field":"s","type":"nominal"}}}
 ],
 "resolve":{"axis":{"x":"independent","y":"independent"}}},
{"data":{"name":"BS"},"width":292,"height":194,
 "layer":[
  {"mark":{"type":"line"},"encoding":{
   "x":{"field":"t","type":"quantitative","scale":{"domain":[0,20],"nice":false},"axis":{"orient":"bottom","values":[0,2,4,6,8,10,12,14,16,18,20],"labels":false,"title":null}},
   "y":{"field":"v","type":"quantitative","scale":{"domain":[70,90],"nice":false,"zero":false},"axis":{"orient":"left","values":[70,72.5,75,77.5,80,82.5,85,87.5,90],"labels":false,"title":null}},
   "color":{"field":"s","type":"nominal","scale":{"domain":["k","r","b"],"range":["#000000","#ff0000","#0000ff"]},"legend":null}}},
  {"mark":{"type":"line","opacity":0},"encoding":{
   "x":{"field":"t","type":"quantitative","scale":{"domain":[0,20],"nice":false},"axis":{"orient":"top","values":[0,2,4,6,8,10,12,14,16,18,20],"labels":false,"title":null}},
   "y":{"field":"v","type":"quantitative","scale":{"domain":[70,90],"nice":false,"zero":false},"axis":{"orient":"right","values":[70,72.5,75,77.5,80,82.5,85,87.5,90],"labels":false,"title":null}},
   "detail":{"field":"s","type":"nominal"}}}
 ],
 "resolve":{"axis":{"x":"independent","y":"independent"}}},
{"data":{"name":"TS"},"width":292,"height":194,
 "layer":[
  {"mark":{"type":"line"},"encoding":{
   "x":{"field":"t","type":"quantitative","scale":{"domain":[0,20],"nice":false},"axis":{"orient":"bottom","values":[0,2,4,6,8,10,12,14,16,18,20],"labels":false,"title":null}},
   "y":{"field":"v","type":"quantitative","scale":{"domain":[70,90],"nice":false,"zero":false},"axis":{"orient":"left","values":[70,72.5,75,77.5,80,82.5,85,87.5,90],"labels":false,"title":null}},
   "color":{"field":"s","type":"nominal","scale":{"domain":["k","r","b"],"range":["#000000","#ff0000","#0000ff"]},"legend":null}}},
  {"mark":{"type":"line","opacity":0},"encoding":{
   "x":{"field":"t","type":"quantitative","scale":{"domain":[0,20],"nice":false},"axis":{"orient":"top","values":[0,2,4,6,8,10,12,14,16,18,20],"labels":false,"title":null}},
   "y":{"field":"v","type":"quantitative","scale":{"domain":[70,90],"nice":false,"zero":false},"axis":{"orient":"right","values":[70,72.5,75,77.5,80,82.5,85,87.5,90],"labels":false,"title":"⟵  ss-NMR  ⟶","titleAngle":90,"titlePadding":-4,"titleFontSize":24}},
   "detail":{"field":"s","type":"nominal"}}}
 ],
 "resolve":{"axis":{"x":"independent","y":"independent"}}},
{"data":{"name":"NN"},"width":292,"height":194,
 "layer":[
  {"mark":{"type":"line"},"encoding":{
   "x":{"field":"t","type":"quantitative","scale":{"domain":[0,20],"nice":false},"axis":{"orient":"bottom","values":[0,2,4,6,8,10,12,14,16,18,20],"format":"d","labelExpr":"datum.value % 4 === 0 && datum.value < 20 ? datum.label : ''","title":null}},
   "y":{"field":"v","type":"quantitative","scale":{"domain":[70,90],"nice":false,"zero":false},"axis":{"orient":"left","values":[70,72.5,75,77.5,80,82.5,85,87.5,90],"format":"d","labelExpr":"datum.value % 5 === 0 && datum.value < 90 ? datum.label : ''","title":null}},
   "color":{"field":"s","type":"nominal","scale":{"domain":["k","r","b"],"range":["#000000","#ff0000","#0000ff"]},"legend":null}}},
  {"mark":{"type":"line","opacity":0},"encoding":{
   "x":{"field":"t","type":"quantitative","scale":{"domain":[0,20],"nice":false},"axis":{"orient":"top","values":[0,2,4,6,8,10,12,14,16,18,20],"labels":false,"title":null}},
   "y":{"field":"v","type":"quantitative","scale":{"domain":[70,90],"nice":false,"zero":false},"axis":{"orient":"right","values":[70,72.5,75,77.5,80,82.5,85,87.5,90],"labels":false,"title":null}},
   "detail":{"field":"s","type":"nominal"}}}
 ],
 "resolve":{"axis":{"x":"independent","y":"independent"}}},
{"data":{"name":"BN"},"width":292,"height":194,
 "layer":[
  {"mark":{"type":"line"},"encoding":{
   "x":{"field":"t","type":"quantitative","scale":{"domain":[0,20],"nice":false},"axis":{"orient":"bottom","values":[0,2,4,6,8,10,12,14,16,18,20],"format":"d","labelExpr":"datum.value % 4 === 0 && datum.value < 20 ? datum.label : ''","title":"Time (ns)","titlePadding":4}},
   "y":{"field":"v","type":"quantitative","scale":{"domain":[70,90],"nice":false,"zero":false},"axis":{"orient":"left","values":[70,72.5,75,77.5,80,82.5,85,87.5,90],"labels":false,"title":null}},
   "color":{"field":"s","type":"nominal","scale":{"domain":["k","r","b"],"range":["#000000","#ff0000","#0000ff"]},"legend":null}}},
  {"mark":{"type":"line","opacity":0},"encoding":{
   "x":{"field":"t","type":"quantitative","scale":{"domain":[0,20],"nice":false},"axis":{"orient":"top","values":[0,2,4,6,8,10,12,14,16,18,20],"labels":false,"title":null}},
   "y":{"field":"v","type":"quantitative","scale":{"domain":[70,90],"nice":false,"zero":false},"axis":{"orient":"right","values":[70,72.5,75,77.5,80,82.5,85,87.5,90],"labels":false,"title":null}},
   "detail":{"field":"s","type":"nominal"}}}
 ],
 "resolve":{"axis":{"x":"independent","y":"independent"}}},
{"data":{"name":"TN"},"width":292,"height":194,
 "layer":[
  {"mark":{"type":"line"},"encoding":{
   "x":{"field":"t","type":"quantitative","scale":{"domain":[0,20],"nice":false},"axis":{"orient":"bottom","values":[0,2,4,6,8,10,12,14,16,18,20],"format":"d","labelExpr":"datum.value % 4 === 0 ? datum.label : ''","title":null}},
   "y":{"field":"v","type":"quantitative","scale":{"domain":[70,90],"nice":false,"zero":false},"axis":{"orient":"left","values":[70,72.5,75,77.5,80,82.5,85,87.5,90],"labels":false,"title":null}},
   "color":{"field":"s","type":"nominal","scale":{"domain":["k","r","b"],"range":["#000000","#ff0000","#0000ff"]},"legend":null}}},
  {"mark":{"type":"line","opacity":0},"encoding":{
   "x":{"field":"t","type":"quantitative","scale":{"domain":[0,20],"nice":false},"axis":{"orient":"top","values":[0,2,4,6,8,10,12,14,16,18,20],"labels":false,"title":null}},
   "y":{"field":"v","type":"quantitative","scale":{"domain":[70,90],"nice":false,"zero":false},"axis":{"orient":"right","values":[70,72.5,75,77.5,80,82.5,85,87.5,90],"labels":false,"title":"⟵— NMR —⟶","titleAngle":90,"titlePadding":-4,"titleFontSize":24}},
   "detail":{"field":"s","type":"nominal"}}}
 ],
 "resolve":{"axis":{"x":"independent","y":"independent"}}}
]
}
